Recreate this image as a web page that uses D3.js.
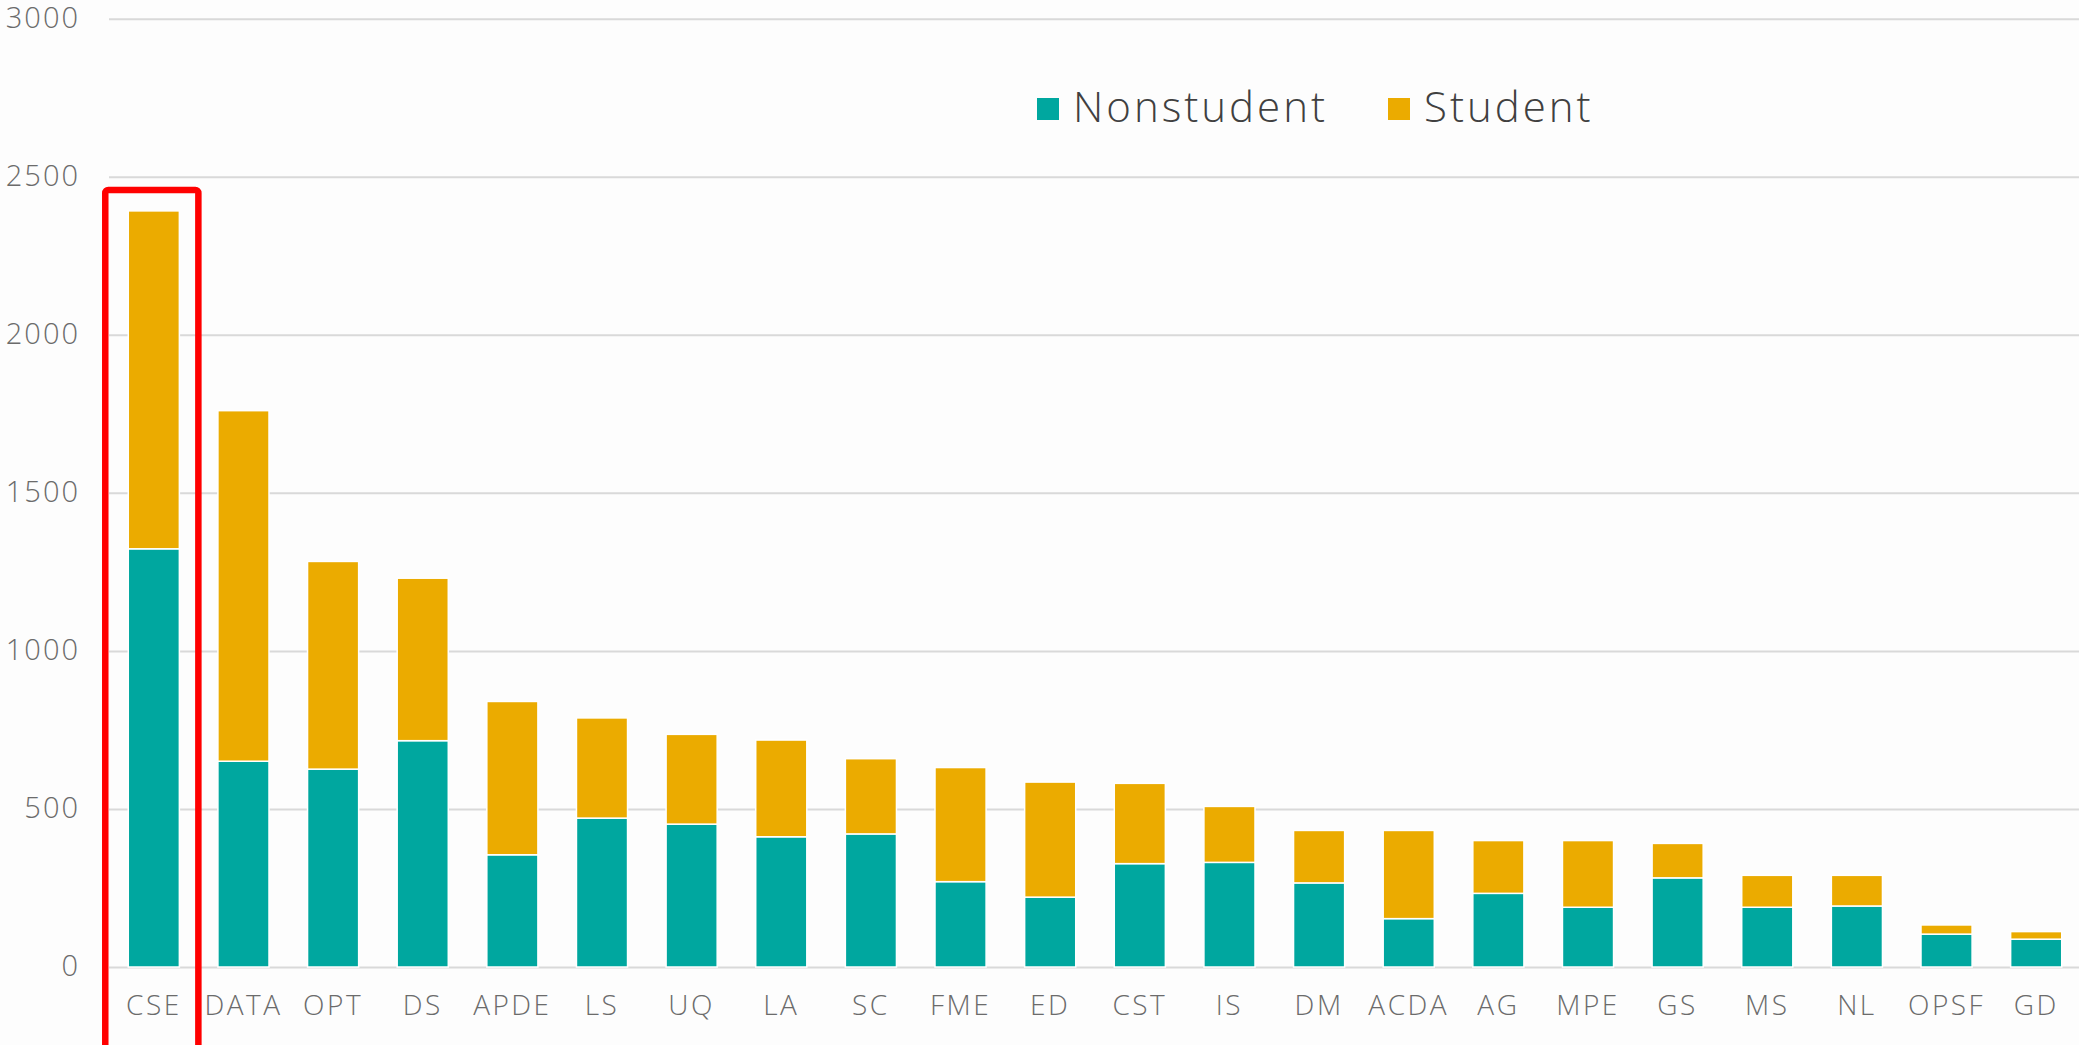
<!DOCTYPE html>
<html>
<head>
<meta charset="utf-8">
<script src="https://cdn.jsdelivr.net/npm/d3@7"></script>
<style>
  body { margin: 0; background: #fdfdfd; }
  svg { display: block; }
  text { font-family: "Open Sans", sans-serif; }
</style>
</head>
<body>
<div id="chartArea"></div>
<script>
var categories = ["CSE", "DATA", "OPT", "DS", "APDE", "LS", "UQ", "LA", "SC", "FME", "ED",
  "CST", "IS", "DM", "ACDA", "AG", "MPE", "GS", "MS", "NL", "OPSF", "GD"];
var nonstudent = [1323, 651, 626, 716, 355, 471, 452, 412, 421, 270, 221,
  327, 331, 266, 153, 233, 189, 282, 189, 193, 104, 88];
var student = [1069, 1109, 657, 514, 485, 317, 284, 306, 238, 361, 364,
  254, 177, 166, 279, 167, 211, 109, 101, 97, 29, 24];
var yTicks = [0, 500, 1000, 1500, 2000, 2500, 3000];
var seriesKeys = ["Nonstudent", "Student"];
var highlighted = "CSE";

var color = d3.scaleOrdinal().domain(seriesKeys).range(["#00a79f", "#ebab00"]);

function drawStacked() {
  var width = 2079, height = 1045;

  var rows = categories.map(function (c, i) {
    return { cat: c, Nonstudent: nonstudent[i], Student: student[i] };
  });

  var x = d3.scaleBand().domain(categories).range([109, 2081])
    .paddingInner(0.43).paddingOuter(0.215);
  var y = d3.scaleLinear().domain([0, 3000]).range([967, 18.7]);

  var svg = d3.select("#chartArea").append("svg")
    .attr("width", width).attr("height", height);

  svg.append("rect").attr("width", width).attr("height", height).attr("fill", "#fdfdfd");

  // gridlines + y labels
  var yAxis = d3.axisLeft(y).tickValues(yTicks).tickFormat(d3.format("d"))
    .tickSize(-(2079 - 109)).tickPadding(29);
  var gy = svg.append("g").attr("transform", "translate(109,0)").call(yAxis);
  gy.select(".domain").remove();
  gy.selectAll(".tick line").attr("stroke", "#d9d9d9").attr("stroke-width", 2);
  gy.selectAll(".tick text")
    .attr("fill", "#6b6b6b")
    .attr("font-size", 29)
    .attr("font-weight", 300)
    .attr("letter-spacing", 2)
    .attr("dy", "0.30em");

  // x labels
  var xAxis = d3.axisBottom(x).tickSize(0).tickPadding(0);
  var gx = svg.append("g").attr("transform", "translate(0,967)").call(xAxis);
  gx.select(".domain").remove();
  gx.selectAll(".tick text")
    .attr("fill", "#6b6b6b")
    .attr("font-size", 28)
    .attr("font-weight", 300)
    .attr("letter-spacing", 2.5)
    .attr("dy", 0)
    .attr("y", 48);

  var stacked = d3.stack().keys(seriesKeys)(rows);

  svg.append("g").selectAll("g")
    .data(stacked)
    .enter()
    .append("g")
    .attr("fill", function (d) { return color(d.key); })
    .selectAll("rect")
    .data(function (d) { return d; })
    .enter()
    .append("rect")
    .attr("x", function (d) { return x(d.data.cat); })
    .attr("y", function (d) { return y(d[1]); })
    .attr("width", x.bandwidth())
    .attr("height", function (d) { return y(d[0]) - y(d[1]); })
    .attr("stroke", "#ffffff")
    .attr("stroke-width", 1.5);

  // legend
  var legend = svg.append("g").selectAll("g")
    .data(seriesKeys)
    .enter()
    .append("g")
    .attr("transform", function (d, i) { return "translate(" + [1037, 1388][i] + ",98)"; });
  legend.append("rect")
    .attr("width", 22).attr("height", 22)
    .attr("fill", function (d) { return color(d); });
  legend.append("text")
    .attr("x", 36).attr("y", 24)
    .attr("font-size", 42)
    .attr("font-weight", 300)
    .attr("fill", "#404040")
    .attr("letter-spacing", 3)
    .text(function (d) { return d; });

  // highlight box around the first category
  svg.append("rect")
    .attr("x", x(highlighted) - 23)
    .attr("y", y(2458))
    .attr("width", x.bandwidth() + 42)
    .attr("height", 900)
    .attr("rx", 3)
    .attr("fill", "none")
    .attr("stroke", "#ff0000")
    .attr("stroke-width", 6.5);
}

drawStacked();
</script>
</body>
</html>
